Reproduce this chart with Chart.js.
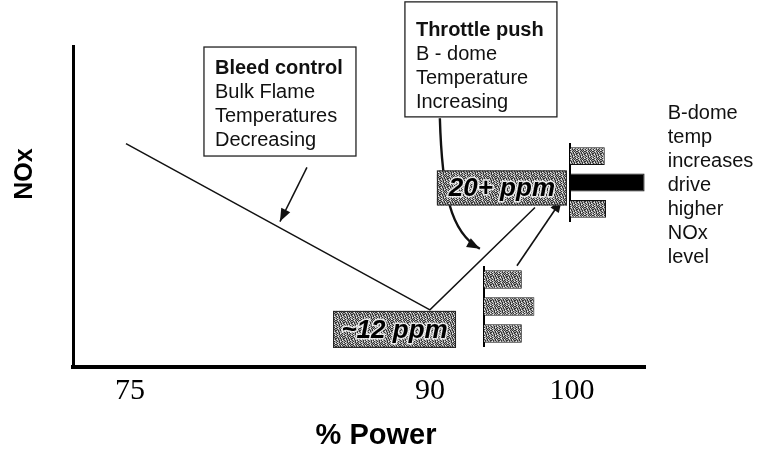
<!DOCTYPE html>
<html>
<head>
<meta charset="utf-8">
<title>NOx vs % Power</title>
<script src="https://cdn.jsdelivr.net/npm/chart.js@4.4.1/dist/chart.umd.min.js"></script>
<style>
	html, body { margin: 0; padding: 0; background: #fff; }
	#wrap { position: relative; width: 760px; height: 460px; }
	#wrap canvas { position: absolute; }
	#main { left: 0; top: 0; }
	#spread90 { left: 483px; top: 266px; }
	#spread100 { left: 569px; top: 143px; }
</style>
</head>
<body>
<div id="wrap">
	<canvas id="main" width="760" height="460"></canvas>
	<canvas id="spread90" width="64" height="81"></canvas>
	<canvas id="spread100" width="80" height="79"></canvas>
</div>
<script>
// NOx trend across the power range, plus the NOx spread at the low point and at full power
const powerTicks = [75, 90, 100];
const noxPower = [74.8, 90, 97.4];
const noxPpm = [25, 12, 20];

const binLabels = ['upper', 'middle', 'lower'];
const spreadAt90 = [3, 4, 3];
const spreadAt100 = [2.75, 5.9, 2.85];

(function(){
	const SANS = '"Liberation Sans", Arial, Helvetica, sans-serif';
	const SERIF = '"Liberation Serif", "Times New Roman", serif';

	// the drawing compresses the axis above 90 %
	const KNEE = 90;
	const SQUEEZE = 0.71;

	class PowerScale extends Chart.LinearScale {
		static id = 'power';
		static defaults = Chart.LinearScale.defaults;
		squeezed(v){ return v <= KNEE ? v : KNEE + (v - KNEE) * SQUEEZE; }
		getPixelForValue(v){
			if(v === null || v === undefined) return NaN;
			const lo = this.squeezed(this.min), hi = this.squeezed(this.max);
			return this.getPixelForDecimal((this.squeezed(v) - lo) / (hi - lo));
		}
		getValueForPixel(p){
			const lo = this.squeezed(this.min), hi = this.squeezed(this.max);
			const s = lo + this.getDecimalForPixel(p) * (hi - lo);
			return s <= KNEE ? s : KNEE + (s - KNEE) / SQUEEZE;
		}
	}
	Chart.register(PowerScale);

	// halftone-ish grey fill
	function stipple(){
		const mask = [
			'#.o#.#.#',
			'.#..#o#.',
			'#.#.#..#',
			'.o#..#.#',
			'#..#.#o.',
			'.#.#o.#.',
			'#o.#.#..',
			'.#..#.#o'
		];
		const c = document.createElement('canvas');
		c.width = 8; c.height = 8;
		const g = c.getContext('2d');
		g.fillStyle = '#a4a4a4';
		g.fillRect(0, 0, 8, 8);
		mask.forEach((row, j) => {
			for(let i = 0; i < row.length; i++){
				if(row[i] === '#'){ g.fillStyle = '#333'; g.fillRect(i, j, 1, 1); }
				if(row[i] === 'o'){ g.fillStyle = '#eee'; g.fillRect(i, j, 1, 1); }
			}
		});
		return g.createPattern(c, 'repeat');
	}
	const grey = stipple();

	// callouts, placed in (power, ppm) units
	const boxes = [
		{ at: [78.7, 32.55], w: 152, h: 109, base: 27, lines: ['Bleed control', 'Bulk Flame', 'Temperatures', 'Decreasing'] },
		{ at: [88.75, 36.08], w: 152, h: 115, base: 34, lines: ['Throttle push', 'B - dome', 'Temperature', 'Increasing'] }
	];
	const sideNote = { at: [106.75, 26.9], lines: ['B-dome', 'temp', 'increases', 'drive', 'higher', 'NOx', 'level'] };
	const tags = [
		{ at: [95.07, 21.53], w: 130, h: 35, text: '20+ ppm' },
		{ at: [88.23, 10.47], w: 123, h: 37, text: '~12 ppm' }
	];
	const arrows = [
		{ width: 1.5, pts: [[83.85, 23.14], [82.5, 18.9]] },
		{ width: 2.4, pts: [[90.7, 26.98], [90.85, 21.33], [91.41, 18.04], [93.52, 16.78]] },
		{ width: 1.6, pts: [[96.13, 15.45], [99.3, 20.63]] }
	];

	function arrowHead(ctx, fx, fy, tx, ty){
		const a = Math.atan2(ty - fy, tx - fx);
		const len = 13, hw = 5;
		const bx = tx - len * Math.cos(a), by = ty - len * Math.sin(a);
		ctx.beginPath();
		ctx.moveTo(tx, ty);
		ctx.lineTo(bx + hw * Math.sin(a), by - hw * Math.cos(a));
		ctx.lineTo(bx - hw * Math.sin(a), by + hw * Math.cos(a));
		ctx.closePath();
		ctx.fill();
	}

	const notesPlugin = {
		id: 'notes',
		afterDatasetsDraw(chart){
			const { ctx, chartArea, scales: { x, y } } = chart;
			const px = p => [x.getPixelForValue(p[0]), y.getPixelForValue(p[1])];
			ctx.save();

			// arrows
			ctx.strokeStyle = '#111';
			ctx.fillStyle = '#111';
			arrows.forEach(a => {
				const p = a.pts.map(px);
				ctx.lineWidth = a.width;
				ctx.beginPath();
				ctx.moveTo(p[0][0], p[0][1]);
				if(p.length === 4) ctx.bezierCurveTo(p[1][0], p[1][1], p[2][0], p[2][1], p[3][0], p[3][1]);
				else ctx.lineTo(p[1][0], p[1][1]);
				ctx.stroke();
				const n = p.length;
				arrowHead(ctx, p[n - 2][0], p[n - 2][1], p[n - 1][0], p[n - 1][1]);
			});

			// ppm tags
			tags.forEach(t => {
				const [cx, cy] = px(t.at);
				const l = cx - t.w / 2, tp = cy - t.h / 2;
				ctx.fillStyle = grey;
				ctx.fillRect(l, tp, t.w, t.h);
				ctx.lineWidth = 1;
				ctx.strokeStyle = '#222';
				ctx.strokeRect(l + 0.5, tp + 0.5, t.w - 1, t.h - 1);
				ctx.font = 'italic bold 26px ' + SANS;
				ctx.textAlign = 'center';
				ctx.textBaseline = 'middle';
				ctx.lineWidth = 3;
				ctx.strokeStyle = 'rgba(255,255,255,0.8)';
				ctx.strokeText(t.text, cx, cy + 1);
				ctx.fillStyle = '#000';
				ctx.fillText(t.text, cx, cy + 1);
			});

			// boxed notes
			ctx.textAlign = 'left';
			ctx.textBaseline = 'alphabetic';
			boxes.forEach(b => {
				const [l, tp] = px(b.at);
				ctx.fillStyle = '#fff';
				ctx.fillRect(l, tp, b.w, b.h);
				ctx.lineWidth = 1.3;
				ctx.strokeStyle = '#222';
				ctx.strokeRect(l, tp, b.w, b.h);
				ctx.fillStyle = '#111';
				b.lines.forEach((s, i) => {
					ctx.font = (i === 0 ? 'bold ' : '') + '20px ' + SANS;
					ctx.fillText(s, l + 11, tp + b.base + i * 24);
				});
			});

			// side note
			const [sx, sy] = px(sideNote.at);
			ctx.font = '20px ' + SANS;
			ctx.fillStyle = '#111';
			sideNote.lines.forEach((s, i) => ctx.fillText(s, sx, sy + i * 24));

			// axis titles
			ctx.fillStyle = '#000';
			ctx.font = 'bold 29px ' + SANS;
			ctx.textAlign = 'center';
			ctx.textBaseline = 'middle';
			ctx.fillText('% Power', chartArea.left + 303, chartArea.bottom + 69);
			ctx.translate(chartArea.left - 48, chartArea.top + 128);
			ctx.rotate(-Math.PI / 2);
			ctx.font = 'bold 25px ' + SANS;
			ctx.fillText('NOx', 0, 0);
			ctx.restore();
		}
	};

	new Chart(document.getElementById('main'), {
		type: 'line',
		data: {
			datasets: [{
				data: noxPower.map((p, i) => ({ x: p, y: noxPpm[i] })),
				borderColor: '#111',
				borderWidth: 1.5,
				pointRadius: 0,
				tension: 0,
				fill: false
			}]
		},
		options: {
			responsive: false,
			animation: false,
			devicePixelRatio: 1,
			layout: { padding: { left: 73, right: 115, top: 46, bottom: 45 } },
			plugins: { legend: { display: false }, tooltip: { enabled: false } },
			scales: {
				x: {
					type: 'power',
					min: 72.15,
					max: 105.15,
					afterBuildTicks: s => { s.ticks = powerTicks.map(v => ({ value: v })); },
					grid: { display: false, drawTicks: false },
					border: { color: '#000', width: 4 },
					ticks: {
						padding: 6,
						maxRotation: 0,
						autoSkip: false,
						color: '#000',
						font: { family: SERIF, size: 30 },
						callback: v => String(v)
					}
				},
				y: {
					type: 'linear',
					min: 7.53,
					max: 32.63,
					grid: { display: false, drawTicks: false },
					ticks: { display: false },
					border: { color: '#000', width: 3 }
				}
			}
		},
		plugins: [notesPlugin]
	});

	// small horizontal histograms of the NOx spread
	function spreadChart(id, values, max, colors){
		return new Chart(document.getElementById(id), {
			type: 'bar',
			data: {
				labels: binLabels,
				datasets: [{
					data: values,
					backgroundColor: colors,
					borderColor: '#111',
					borderWidth: 1,
					barPercentage: 0.68,
					categoryPercentage: 1
				}]
			},
			options: {
				indexAxis: 'y',
				responsive: false,
				animation: false,
				devicePixelRatio: 1,
				layout: { padding: { left: 1 } },
				plugins: { legend: { display: false }, tooltip: { enabled: false } },
				scales: {
					x: { display: false, min: 0, max: max },
					y: {
						grid: { display: false, drawTicks: false },
						ticks: { display: false },
						border: { color: '#000', width: 2 }
					}
				}
			}
		});
	}

	spreadChart('spread90', spreadAt90, 5, [grey, grey, grey]);
	spreadChart('spread100', spreadAt100, 6.25, [grey, '#000', grey]);
})();
</script>
</body>
</html>
